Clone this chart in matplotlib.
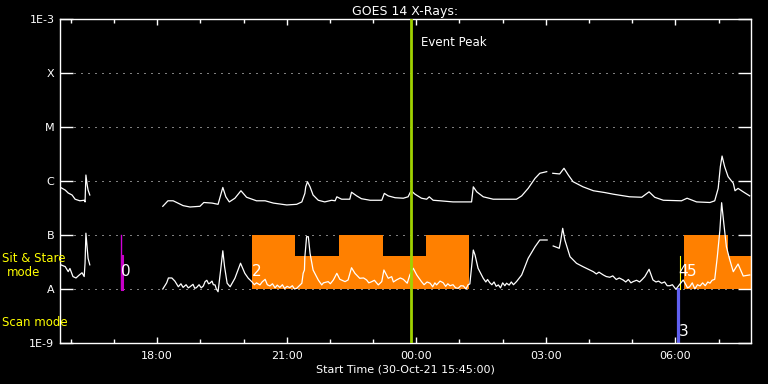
import matplotlib
matplotlib.use("Agg")
import matplotlib.pyplot as plt
import numpy as np

# hours after the start time (30-Oct-21 15:45:00)
long_hours = [0.00, 0.12, 0.19, 0.28, 0.35, 0.46, 0.56, 0.58, 0.60, 0.63, 0.65, 0.69, 1.50,
              2.38, 2.50, 2.62, 2.73, 2.85, 3.01, 3.24, 3.33, 3.52, 3.66, 3.77, 3.84, 3.92,
              4.05, 4.19, 4.32, 4.55, 4.75, 4.94, 5.25, 5.48, 5.60, 5.63, 5.67, 5.69, 5.73,
              5.79, 5.86, 5.98, 6.13, 6.29, 6.37, 6.41, 6.52, 6.71, 6.75, 6.87, 6.98, 7.18,
              7.45, 7.51, 7.60, 7.76, 7.95, 8.06, 8.13, 8.22, 8.37, 8.49, 8.55, 8.64, 8.80,
              9.10, 9.34, 9.53, 9.57, 9.65, 9.80, 10.03, 10.34, 10.57, 10.69, 10.84, 11.00,
              11.11, 11.27, 11.34,
              11.41, 11.57, 11.67, 11.77, 11.88, 12.11, 12.35, 12.62, 12.81, 13.19, 13.47,
              13.64, 13.77, 13.97, 14.39, 14.52, 14.74, 15.05, 15.16, 15.24, 15.29, 15.33,
              15.39, 15.47, 15.59, 15.63, 15.70, 15.82, 15.97]
# 1-8 A flux, units of 1e-7 W/m2 (nan = data gap)
long_flux = [7.7, 6.8, 6.0, 5.5, 4.6, 4.3, 4.4, 4.1, 12.9, 8.4, 6.8, 5.5, np.nan,
             3.4, 4.3, 4.3, 3.9, 3.5, 3.3, 3.4, 4.0, 3.9, 3.7, 7.6, 5.1, 4.1,
             4.8, 6.6, 5.0, 4.3, 4.3, 3.9, 3.6, 3.7, 4.1, 4.8, 5.9, 7.8, 9.7,
             7.8, 5.5, 4.4, 4.1, 4.4, 4.3, 5.1, 4.6, 4.6, 6.2, 5.3, 4.7, 4.4,
             4.4, 5.9, 5.3, 4.9, 4.8, 5.1, 6.6, 5.7, 4.8, 4.6, 5.1, 4.4, 4.3,
             4.1, 4.1, 4.1, 7.8, 6.3, 5.1, 4.6, 4.6, 4.6, 5.3, 7.3, 11.2,
             13.9, 14.9, np.nan,
             13.9, 13.5, 17.2, 12.9, 9.7, 7.8, 6.6, 6.1, 5.7, 5.1, 5.0,
             6.3, 5.0, 4.4, 4.3, 4.8, 4.1, 4.0, 4.3, 7.3, 18.4, 29.0,
             18.4, 12.0, 9.1, 6.6, 7.3, 6.3, 5.3]

short_hours = [0.02, 0.12, 0.19, 0.23, 0.30, 0.37, 0.44, 0.51, 0.56, 0.58, 0.60, 0.63, 0.65, 0.69, 1.50,
               2.38, 2.47, 2.51, 2.59, 2.66, 2.74, 2.80, 2.85, 2.92, 2.97, 3.01, 3.08, 3.12, 3.16, 3.22, 3.27, 3.32,
               3.36, 3.40, 3.44, 3.47, 3.52, 3.55, 3.59, 3.62, 3.66, 3.72, 3.77, 3.81, 3.87, 3.94, 4.05, 4.18, 4.28, 4.36, 4.44,
               4.50, 4.55, 4.63, 4.68, 4.75, 4.80, 4.86, 4.92, 4.98, 5.03, 5.09, 5.15, 5.20, 5.26, 5.32, 5.38, 5.43, 5.48,
               5.60, 5.63, 5.66, 5.67, 5.71, 5.75, 5.79, 5.86, 5.98, 6.06, 6.10, 6.21, 6.26, 6.33, 6.41, 6.48, 6.60, 6.67,
               6.75, 6.83, 6.94, 7.03, 7.10, 7.15, 7.22, 7.28, 7.37, 7.45, 7.50, 7.60, 7.68, 7.72, 7.79, 7.88, 7.95, 8.04, 8.10, 8.18, 8.26,
               8.37, 8.43, 8.50, 8.57, 8.63, 8.68, 8.72, 8.80, 8.87, 8.93, 8.98, 9.03, 9.10, 9.16, 9.22, 9.28, 9.34, 9.40, 9.45, 9.49,
               9.57, 9.61, 9.68, 9.80, 9.86, 9.90, 9.95, 10.00, 10.05, 10.10, 10.15, 10.20, 10.25, 10.30, 10.34, 10.40, 10.45, 10.50, 10.57,
               10.69, 10.84, 11.00, 11.11, 11.28, 11.35,
               11.42, 11.56, 11.59, 11.64, 11.69, 11.81, 11.96, 12.11, 12.35, 12.42, 12.48, 12.58, 12.65, 12.73, 12.80, 12.88, 12.95,
               13.04, 13.10, 13.16, 13.22, 13.27, 13.35, 13.42, 13.48, 13.54, 13.64, 13.73, 13.80, 13.86, 13.93, 14.00, 14.06, 14.12, 14.18, 14.26,
               14.34, 14.43, 14.48, 14.53, 14.58, 14.64, 14.70, 14.76, 14.82, 14.88, 14.94, 15.00, 15.05, 15.10, 15.16,
               15.22, 15.28, 15.32, 15.37, 15.43, 15.51, 15.59, 15.70, 15.82, 15.97]
# 0.5-4 A flux, units of 1e-8 W/m2
short_flux = [2.8, 2.6, 2.1, 2.4, 1.7, 1.6, 1.8, 2.0, 1.7, 3.0, 10.8, 5.7, 3.7, 2.8, np.nan,
              1.0, 1.3, 1.6, 1.6, 1.4, 1.1, 1.25, 1.07, 1.2, 1.05, 1.1, 1.22, 1.03, 1.06, 1.2, 1.05, 1.14,
              1.37, 1.45, 1.25, 1.28, 1.4, 1.2, 1.19, 1.0, 0.89, 2.25, 5.1, 2.6, 1.28, 1.1, 1.58, 3.0, 1.95, 1.58, 1.37,
              1.2, 1.3, 1.19, 1.35, 1.51, 1.2, 1.14, 1.25, 1.05, 1.18, 1.07, 1.2, 1.02, 1.12, 1.06, 1.15, 1.0, 1.03,
              1.28, 1.95, 2.25, 3.96, 9.3, 9.3, 4.58, 2.25, 1.47, 1.19, 1.3, 1.37, 1.25, 1.47, 1.95, 1.51, 1.37, 1.47,
              2.48, 1.95, 1.58, 1.6, 1.47, 1.3, 1.37, 1.45, 1.19, 1.37, 2.25, 1.58, 1.69, 1.35, 1.47, 1.6, 1.51, 1.28, 1.82, 2.42, 1.82,
              1.37, 1.2, 1.35, 1.28, 1.1, 1.3, 1.19, 1.4, 1.31, 1.12, 1.25, 1.15, 1.2, 1.05, 1.03, 1.15, 1.14, 1.0, 1.2, 1.24,
              5.27, 4.26, 2.42, 1.58, 1.35, 1.5, 1.31, 1.2, 1.35, 1.12, 1.19, 1.05, 1.3, 1.15, 1.28, 1.18, 1.35, 1.2, 1.37,
              1.82, 3.70, 6.07, 8.08, 8.08, np.nan,
              6.26, 5.67, 7.51, 13.3, 8.08, 3.96, 2.99, 2.59, 2.09, 1.9, 2.05, 1.82, 1.7, 1.65, 1.75, 1.5, 1.6,
              1.47, 1.35, 1.5, 1.3, 1.37, 1.45, 1.35, 1.5, 1.69, 2.32, 1.47, 1.35, 1.4, 1.28, 1.35, 1.15, 1.15, 1.2, 0.99,
              1.19, 1.47, 1.25, 1.05, 1.10, 1.3, 1.0, 1.2, 1.14, 1.3, 1.15, 1.35, 1.28, 1.45, 1.51,
              3.96, 12.4, 39.6, 16.5, 6.07, 3.44, 2.09, 2.90, 1.74, 1.82]

# observing mode blocks (hours) and their top flux
mode_start = [4.44, 5.44, 6.46, 7.48, 8.47, 14.44, 15.46]
mode_end = [5.44, 6.46, 7.48, 8.47, 9.47, 15.46, 16.00]
mode_top = [1e-7, 4.1e-8, 1e-7, 4.1e-8, 1e-7, 1e-7, 4.1e-8]

event_peak = 8.13

flux_ticks = [1e-9, 1e-8, 1e-7, 1e-6, 1e-5, 1e-4, 1e-3]
flux_labels = ['1E-9', 'A', 'B', 'C', 'M', 'X', '1E-3']
time_ticks = [2.25, 5.25, 8.25, 11.25, 14.25]
time_labels = ['18:00', '21:00', '00:00', '03:00', '06:00']
hour_ticks = [0.25 + i for i in range(16)]


def main():
    fig = plt.figure(figsize=(7.68, 3.84), dpi=100, facecolor='black')
    ax = fig.add_axes([60 / 768, 1 - 343 / 384, 691 / 768, 324 / 384])
    ax.set_facecolor('black')
    ax.set_yscale('log')
    ax.set_ylim(1e-9, 1e-3)
    ax.set_xlim(0, 16)

    # mode blocks
    starts = np.array(mode_start)
    ax.bar(starts, np.array(mode_top) - 1e-8, width=np.array(mode_end) - starts,
           bottom=1e-8, align='edge', color='#ff8000', linewidth=0, zorder=1)

    # dotted class lines
    for f in flux_ticks[1:-1]:
        ax.axhline(f, color='white', lw=0.72, linestyle=(0, (1, 6)), zorder=0.5)

    ax.plot(long_hours, np.array(long_flux) * 1e-7, color='white', lw=0.9, zorder=3)
    ax.plot(short_hours, np.array(short_flux) * 1e-8, color='white', lw=0.9, zorder=3)

    # mode change markers
    ax.plot([1.41, 1.41], [1e-8, 1e-7], color='#d000d8', lw=1.0, zorder=2)
    ax.plot([1.435, 1.435], [1e-8, 4.1e-8], color='#c800c8', lw=2.2, zorder=2)
    ax.plot([14.32, 14.32], [1e-9, 1e-8], color='#6060f0', lw=2.3, zorder=2)
    ax.plot([14.35, 14.35], [1e-8, 4.1e-8], color='#ffff00', lw=0.8, zorder=2)
    lab = dict(color='white', fontsize=11, ha='center', va='center', zorder=5)
    ax.text(1.52, 2.07e-8, '0', **lab)
    ax.text(4.56, 2.07e-8, '2', **lab)
    ax.text(14.44, 1.6e-9, '3', **lab)
    ax.text(14.42, 2.07e-8, '4', **lab)
    ax.text(14.63, 2.07e-8, '5', **lab)

    ax.axvline(event_peak, color='#a0d200', lw=2.0, zorder=4)
    ax.text(8.36, 3.6e-4, 'Event Peak', color='white', fontsize=8.5, va='center')

    for s in ax.spines.values():
        s.set_color('white')
        s.set_linewidth(1.0)

    ax.yaxis.set_major_locator(matplotlib.ticker.FixedLocator(flux_ticks))
    ax.yaxis.set_minor_locator(matplotlib.ticker.NullLocator())
    ax.set_yticklabels(flux_labels)
    ax.set_xticks(time_ticks)
    ax.set_xticklabels(time_labels)
    ax.set_xticks(hour_ticks, minor=True)
    ax.tick_params(axis='y', which='major', direction='in', length=9.5, width=1,
                   colors='white', labelsize=8, left=True, right=True, pad=4)
    ax.tick_params(axis='x', which='major', direction='in', length=4.5, width=1,
                   colors='white', labelsize=8, top=True, bottom=True, pad=6)
    ax.tick_params(axis='x', which='minor', direction='in', length=3, width=1,
                   colors='white', top=True, bottom=True)
    ax.set_xlabel('Start Time (30-Oct-21 15:45:00)', color='white', fontsize=8, labelpad=2)
    ax.set_title('GOES 14 X-Rays:', color='white', fontsize=9, pad=3)

    fig.text(2 / 768, 1 - 258 / 384, 'Sit & Stare', color='#ffff00', fontsize=8.5, va='center')
    fig.text(24 / 768, 1 - 272 / 384, 'mode', color='#ffff00', fontsize=8.5, va='center', ha='center')
    fig.text(2 / 768, 1 - 323 / 384, 'Scan mode', color='#ffff00', fontsize=8.5, va='center')

    fig.savefig('out.png', dpi=100, facecolor='black')


if __name__ == '__main__':
    main()
